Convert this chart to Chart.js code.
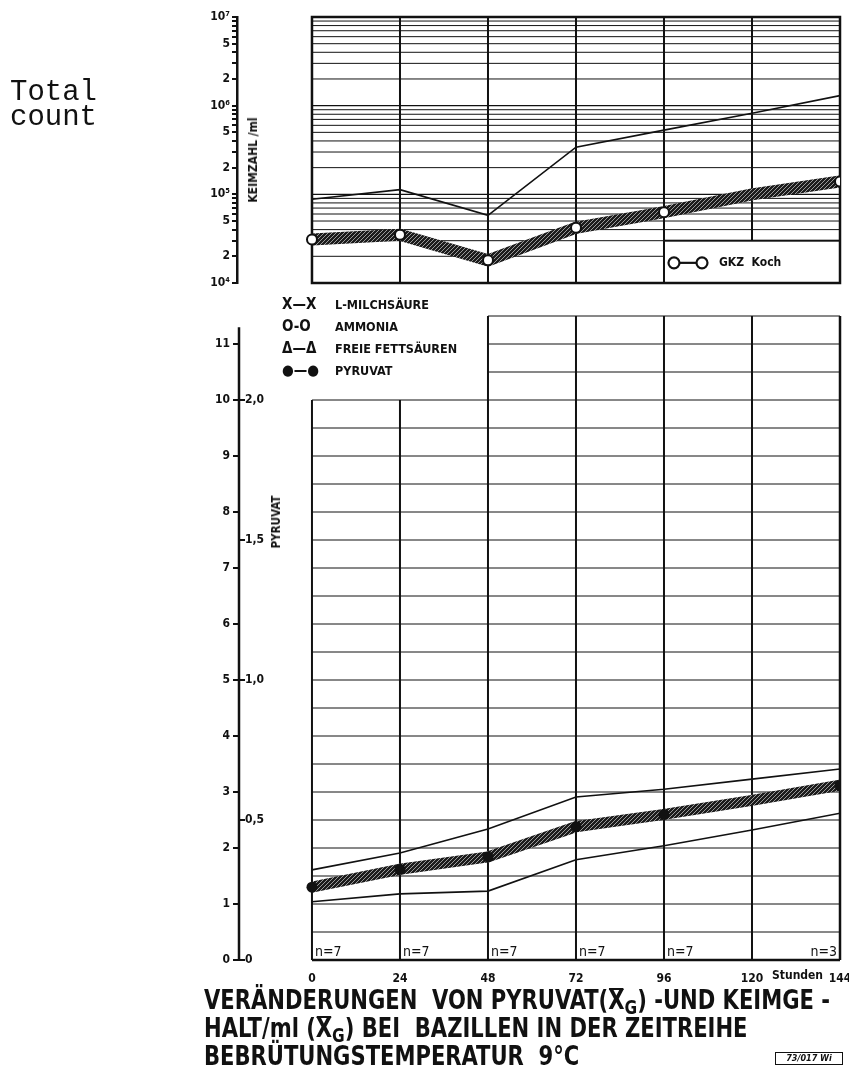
<!DOCTYPE html>
<html>
<head>
<meta charset="utf-8">
<title>Pyruvat und Keimgehalt bei 9 °C</title>
<script src="https://cdn.jsdelivr.net/npm/chart.js@4.4.1/dist/chart.umd.min.js"></script>
<style>
    body { margin: 0; background: #fff; }
    #page {
        position: relative; width: 849px; height: 1069px; overflow: hidden;
        font-family: "DejaVu Sans Condensed", "DejaVu Sans", sans-serif;
        font-stretch: condensed; color: #111;
    }
    .abs { position: absolute; }
    #topChart { left: 0; top: 0; }
    #bottomChart { left: 0; top: 290px; }
    .total-count {
        left: 10px; top: 80px; font-family: "Liberation Mono", "DejaVu Sans Mono", monospace;
        font-size: 29px; line-height: 25px; font-stretch: normal;
    }
    .rot { transform: translate(-50%, -50%) rotate(-90deg); white-space: nowrap; font-weight: bold; }
    .legend { left: 282px; top: 293px; font-size: 12.5px; font-weight: bold; }
    .legend div { height: 22px; line-height: 22px; white-space: nowrap; }
    .legend .sym { display: inline-block; width: 53px; font-size: 15px; }
    .title {
        left: 204px; top: 986px; font-size: 26px; line-height: 28px; white-space: nowrap;
        font-weight: bold; transform-origin: 0 0;
    }
    .ov { display: inline-block; position: relative; }
    .ov::before {
        content: ""; position: absolute; left: 1px; right: 1px; top: 2px; border-top: 2px solid #111;
    }
    .title sub { font-size: 19px; vertical-align: -5px; line-height: 0; }
    .stamp {
        left: 775px; top: 1052px; width: 66px; height: 11px; border: 1px solid #111;
        font-size: 9px; line-height: 11px; font-style: italic; font-weight: bold; text-align: center;
    }
    .unit { left: 772px; top: 968px; font-size: 12px; font-weight: bold; }
</style>
</head>
<body>
<div id="page">
    <canvas id="topChart" class="abs" width="849" height="300"></canvas>
    <canvas id="bottomChart" class="abs" width="849" height="700"></canvas>

    <div class="abs total-count">Total<br>count</div>
    <div class="abs rot" style="left:253px; top:160px; font-size:12px;">KEIMZAHL /ml</div>
    <div class="abs rot" style="left:276px; top:522px; font-size:11.5px;">PYRUVAT</div>

    <div class="abs legend">
        <div><span class="sym">X—X</span>L-MILCHSÄURE</div>
        <div><span class="sym">O-O</span>AMMONIA</div>
        <div><span class="sym">Δ—Δ</span>FREIE FETTSÄUREN</div>
        <div><span class="sym">●—●</span>PYRUVAT</div>
    </div>

    <div class="abs unit">Stunden</div>

    <div class="abs title" id="title">
        <span id="titleLine1">VERÄNDERUNGEN&nbsp; VON PYRUVAT(<span class="ov">X</span><sub>G</sub>) -UND KEIMGE -</span><br>
        HALT/ml (<span class="ov">X</span><sub>G</sub>) BEI&nbsp; BAZILLEN IN DER ZEITREIHE<br>
        BEBRÜTUNGSTEMPERATUR&nbsp; 9°C
    </div>
    <div class="abs stamp">73/017 Wi</div>
</div>

<script>
// sampling times (hours)
const hours = [0, 24, 48, 72, 96, 120, 144];

// Keimzahl/ml: GKZ Koch (mean) and the upper trace
const gkzKoch = [3.1e4, 3.5e4, 1.8e4, 4.2e4, 6.3e4, 1.0e5, 1.4e5];
const gkzUpper = [8.8e4, 1.13e5, 5.8e4, 3.4e5, 5.3e5, 8.2e5, 1.3e6];
const gkzMarked = [true, true, true, true, true, false, true];

// Pyruvat (X_G) with upper / lower bound
const pyruvatMean = [0.26, 0.324, 0.368, 0.476, 0.52, 0.57, 0.624];
const pyruvatUpper = [0.322, 0.382, 0.468, 0.582, 0.61, 0.646, 0.682];
const pyruvatLower = [0.208, 0.236, 0.246, 0.358, 0.408, 0.464, 0.524];
const pyruvatMarked = [true, true, true, true, true, false, true];

// sample sizes per interval
const sampleSizes = ['n=7', 'n=7', 'n=7', 'n=7', 'n=7', 'n=3'];

// axis ticks
const hourTicks = [0, 24, 48, 72, 96, 120, 144];
const countDecades = [1e4, 1e5, 1e6];
const countSteps = [1, 2, 3, 4, 5, 6, 7, 8, 9];
const countLabelSteps = [1, 2, 5];
const sideTicks = [0, 1, 2, 3, 4, 5, 6, 7, 8, 9, 10, 11];
const pyruvatTicks = [0, 0.5, 1.0, 1.5, 2.0];
const pyruvatFactor = 5;          // 2,0 Pyruvat sits at 10 on the side scale

const countTicks = countDecades.flatMap(d => countSteps.map(s => s * d)).concat([1e7]);
const sup = { 4: '⁴', 5: '⁵', 6: '⁶', 7: '⁷' };
const INK = '#111';
const FONT = '"DejaVu Sans Condensed", "DejaVu Sans", sans-serif';
const axisFont = { family: FONT, size: 12, weight: 'bold' };

// title is squeezed to the width of the drawing
const titleEl = document.getElementById('title');
const line1 = document.getElementById('titleLine1').getBoundingClientRect().width;
titleEl.style.transform = `scaleX(${626 / line1})`;

// knitted hatch used for the broad mean bands
function makeHatch() {
    const c = document.createElement('canvas');
    c.width = 4; c.height = 4;
    const g = c.getContext('2d');
    g.fillStyle = '#1c1c1c';
    g.fillRect(0, 0, 4, 4);
    g.fillStyle = '#9a9a9a';
    [[0, 0], [2, 2], [1, 3], [3, 1]].forEach(([px, py]) => g.fillRect(px, py, 1, 1));
    return g.createPattern(c, 'repeat');
}
const hatch = makeHatch();

function seg(ctx, x1, y1, x2, y2) {
    ctx.beginPath(); ctx.moveTo(x1, y1); ctx.lineTo(x2, y2); ctx.stroke();
}

// ---------- Keimzahl (log) ----------
const legendTop = 3e4;   // upper edge of the GKZ legend box
const countGrid = {
    id: 'countGrid',
    beforeDatasetsDraw(chart) {
        const { ctx, scales: { x, y } } = chart;
        const X0 = x.getPixelForValue(0), X1 = x.getPixelForValue(144);
        ctx.save();
        ctx.strokeStyle = INK;
        countTicks.forEach(v => {
            const m = Math.round(v / Math.pow(10, Math.floor(Math.log10(v) + 1e-9)));
            ctx.lineWidth = m === 1 ? 1.4 : 1;
            seg(ctx, X0, y.getPixelForValue(v), X1, y.getPixelForValue(v));
        });
        ctx.lineWidth = 2;
        hourTicks.forEach(h => {
            const bottom = (h > 96 && h < 144) ? y.getPixelForValue(legendTop) : y.getPixelForValue(1e4);
            seg(ctx, x.getPixelForValue(h), y.getPixelForValue(1e7), x.getPixelForValue(h), bottom);
        });
        // legend box
        const bx = x.getPixelForValue(96), by = y.getPixelForValue(legendTop), bb = y.getPixelForValue(1e4);
        ctx.fillStyle = '#fff';
        ctx.fillRect(bx, by, X1 - bx, bb - by);
        ctx.strokeRect(bx, by, X1 - bx, bb - by);
        ctx.lineWidth = 2.5;
        ctx.strokeRect(X0, y.getPixelForValue(1e7), X1 - X0, bb - y.getPixelForValue(1e7));
        // legend entry
        const ly = (by + bb) / 2 + 1, lx = bx + 10;
        ctx.lineWidth = 2.2;
        seg(ctx, lx + 6, ly, lx + 22, ly);
        [lx, lx + 28].forEach(cx => { ctx.beginPath(); ctx.arc(cx, ly, 5.5, 0, Math.PI * 2); ctx.fillStyle = '#fff'; ctx.fill(); ctx.stroke(); });
        ctx.fillStyle = INK;
        ctx.font = 'bold 12px ' + FONT;
        ctx.textBaseline = 'middle';
        ctx.fillText('GKZ  Koch', lx + 45, ly);
        ctx.restore();
    }
};

new Chart(document.getElementById('topChart'), {
    type: 'line',
    data: {
        labels: hours,
        datasets: [
            {
                label: 'Keimzahl oben',
                data: hours.map((h, i) => ({ x: h, y: gkzUpper[i] })),
                borderColor: INK, borderWidth: 1.6, pointRadius: 0, tension: 0
            },
            {
                label: 'GKZ Koch',
                data: hours.map((h, i) => ({ x: h, y: gkzKoch[i] })),
                borderColor: hatch, borderWidth: 12, tension: 0,
                pointRadius: gkzMarked.map(m => m ? 5 : 0),
                pointBackgroundColor: '#fff', pointBorderColor: INK, pointBorderWidth: 2
            }
        ]
    },
    options: {
        responsive: false, animation: false, devicePixelRatio: 1,
        layout: { padding: { left: 207, right: 9, top: 17, bottom: 17 } },
        plugins: { legend: { display: false }, tooltip: { enabled: false } },
        scales: {
            x: { type: 'linear', min: -20.45, max: 144, display: false },
            y: {
                type: 'logarithmic', min: 1e4, max: 1e7,
                afterBuildTicks: s => { s.ticks = countTicks.map(v => ({ value: v })); },
                afterFit: s => { s.width = 30; },
                border: { color: INK, width: 2.5 },
                grid: { drawOnChartArea: false, tickLength: 5, color: INK, lineWidth: 2 },
                ticks: {
                    autoSkip: false, padding: 2, color: INK, font: axisFont,
                    callback: v => {
                        const e = Math.floor(Math.log10(v) + 1e-9);
                        const m = Math.round(v / Math.pow(10, e));
                        if (m === 1) return '10' + sup[e];
                        return countLabelSteps.includes(m) ? String(m) : '';
                    }
                }
            }
        }
    },
    plugins: [countGrid]
});

// ---------- Pyruvat (linear) ----------
const splitHour = 48;     // left part of the grid ends at 10, right part at 11,5
const leftTop = 10, rightTop = 11.5, gridStep = 0.5, axisTop = 11.3;

const pyruvatGrid = {
    id: 'pyruvatGrid',
    beforeDatasetsDraw(chart) {
        const { ctx, chartArea, scales: { x, y } } = chart;
        const X = v => x.getPixelForValue(v), Y = v => y.getPixelForValue(v);
        ctx.save();
        ctx.strokeStyle = INK;
        ctx.lineWidth = 1;
        for (let v = gridStep; v <= rightTop + 1e-9; v += gridStep) {
            seg(ctx, X(v > leftTop ? splitHour : 0), Y(v), X(144), Y(v));
        }
        ctx.lineWidth = 2;
        hourTicks.forEach(h => {
            seg(ctx, X(h), Y(h < splitHour ? leftTop : rightTop), X(h), Y(0));
        });
        ctx.lineWidth = 2.5;
        seg(ctx, X(0), Y(0), X(144), Y(0));
        seg(ctx, X(144), Y(rightTop), X(144), Y(0));
        // side axis line with its foot
        seg(ctx, chartArea.left, Y(axisTop), chartArea.left, Y(0) + 1);
        ctx.restore();
    },
    afterDatasetsDraw(chart) {
        const { ctx, scales: { x, y } } = chart;
        ctx.save();
        ctx.fillStyle = INK;
        ctx.font = '14px ' + FONT;
        ctx.textBaseline = 'alphabetic';
        sampleSizes.forEach((t, i) => {
            const last = i === sampleSizes.length - 1;
            ctx.textAlign = last ? 'right' : 'left';
            const px = last ? x.getPixelForValue(hourTicks[i + 1]) - 3 : x.getPixelForValue(hourTicks[i]) + 3;
            ctx.fillText(t, px, y.getPixelForValue(0) - 4);
        });
        ctx.restore();
    },
    afterDraw(chart) {
        // Pyruvat scale: ticks to the right of the axis line
        const { ctx, chartArea, scales: { yPyr } } = chart;
        const ax = chartArea.left;
        ctx.save();
        ctx.strokeStyle = INK; ctx.fillStyle = INK; ctx.lineWidth = 2;
        ctx.font = 'bold 12px ' + FONT;
        ctx.textBaseline = 'middle'; ctx.textAlign = 'left';
        pyruvatTicks.forEach(v => {
            const py = yPyr.getPixelForValue(v);
            seg(ctx, ax, py, ax + 6, py);
            ctx.fillText(v === 0 ? '0' : v.toFixed(1).replace('.', ','), ax + 6, py);
        });
        ctx.restore();
    }
};

new Chart(document.getElementById('bottomChart'), {
    type: 'line',
    data: {
        labels: hours,
        datasets: [
            {
                label: 'Pyruvat obere Grenze',
                data: hours.map((h, i) => ({ x: h, y: pyruvatUpper[i] })),
                yAxisID: 'yPyr', borderColor: INK, borderWidth: 1.6, pointRadius: 0, tension: 0
            },
            {
                label: 'Pyruvat untere Grenze',
                data: hours.map((h, i) => ({ x: h, y: pyruvatLower[i] })),
                yAxisID: 'yPyr', borderColor: INK, borderWidth: 1.6, pointRadius: 0, tension: 0
            },
            {
                label: 'Pyruvat',
                data: hours.map((h, i) => ({ x: h, y: pyruvatMean[i] })),
                yAxisID: 'yPyr', borderColor: hatch, borderWidth: 11, tension: 0,
                pointRadius: pyruvatMarked.map(m => m ? 5.5 : 0),
                pointBackgroundColor: INK, pointBorderColor: INK, pointBorderWidth: 0
            }
        ]
    },
    options: {
        responsive: false, animation: false, devicePixelRatio: 1,
        layout: { padding: { left: 209, right: 9, top: 26, bottom: 8 } },
        plugins: { legend: { display: false }, tooltip: { enabled: false } },
        scales: {
            x: {
                type: 'linear', min: -19.9, max: 144,
                afterBuildTicks: s => { s.ticks = hourTicks.map(v => ({ value: v })); },
                afterFit: s => { s.height = 22; s.paddingLeft = 0; s.paddingRight = 0; },
                border: { display: false },
                grid: { display: false },
                ticks: { autoSkip: false, maxRotation: 0, padding: 4, color: INK, font: axisFont }
            },
            y: {
                type: 'linear', min: 0, max: rightTop,
                afterBuildTicks: s => { s.ticks = sideTicks.map(v => ({ value: v })); },
                afterFit: s => { s.width = 30; },
                border: { display: false },
                grid: { drawOnChartArea: false, tickLength: 6, color: INK, lineWidth: 2 },
                ticks: { autoSkip: false, padding: 3, color: INK, font: axisFont }
            },
            yPyr: { type: 'linear', min: 0, max: rightTop / pyruvatFactor, display: false }
        }
    },
    plugins: [pyruvatGrid]
});
</script>
</body>
</html>
